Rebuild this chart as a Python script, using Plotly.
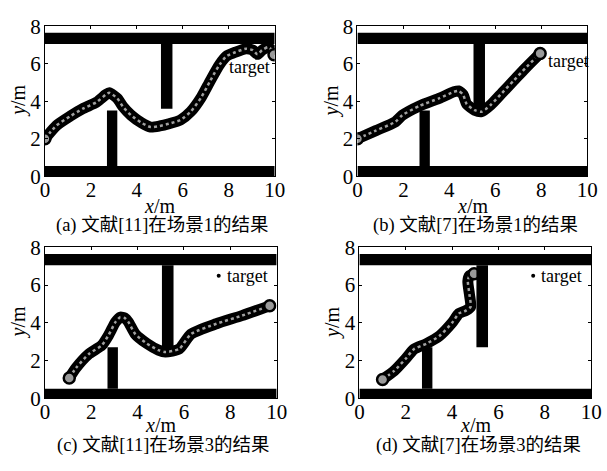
import plotly.graph_objects as go

# ---- data ----
a_x = [0.0, 0.5, 1.1, 1.65, 2.25, 2.65, 2.8, 3.15, 3.4, 3.75, 4.2, 4.6, 5.0, 5.4, 5.9, 6.35, 6.8, 7.2, 7.6, 7.9, 8.3, 8.75, 9.05, 9.25, 9.45, 9.7, 9.9, 9.97]
a_y = [2.0, 2.7, 3.2, 3.6, 3.95, 4.35, 4.45, 4.15, 3.7, 3.25, 2.85, 2.62, 2.68, 2.8, 3.0, 3.45, 4.2, 5.1, 5.95, 6.4, 6.62, 6.8, 6.72, 6.5, 6.72, 6.88, 6.72, 6.48]

b_x = [0.0, 0.8, 1.65, 1.95, 2.7, 3.55, 4.2, 4.4, 4.6, 4.75, 5.1, 5.4, 5.8, 6.3, 6.8, 7.3, 7.95]
b_y = [2.0, 2.43, 2.9, 3.25, 3.75, 4.15, 4.5, 4.55, 4.35, 3.85, 3.52, 3.44, 3.8, 4.45, 5.1, 5.75, 6.55]

c_x = [1.05, 1.35, 1.9, 2.45, 2.75, 3.05, 3.25, 3.45, 3.6, 3.9, 4.4, 4.9, 5.2, 5.8, 6.3, 7.4, 8.5, 9.7]
c_y = [1.07, 1.62, 2.35, 2.8, 3.35, 4.05, 4.3, 4.25, 4.05, 3.4, 2.9, 2.55, 2.45, 2.62, 3.4, 3.95, 4.38, 4.9]

d_x = [1.0, 1.5, 2.0, 2.35, 2.9, 3.45, 4.0, 4.3, 4.6, 4.8, 4.75, 4.68, 4.75, 4.95]
d_y = [1.0, 1.45, 2.1, 2.6, 2.9, 3.3, 4.0, 4.5, 4.65, 4.85, 5.5, 6.2, 6.5, 6.6]

# obstacles: [x0, x1, y0, y1]
scene1_walls = [[0, 10, 7.05, 7.65], [0, 10, 0.0, 0.55], [2.7, 3.15, 0.55, 3.5], [5.05, 5.55, 3.6, 7.05]]
scene3_walls = [[0, 10, 7.05, 7.65], [0, 10, 0.0, 0.5], [2.7, 3.15, 0.5, 2.7], [5.05, 5.55, 2.7, 7.05]]

captions = ["(a) 文献[11]在场景1的结果", "(b) 文献[7]在场景1的结果",
            "(c) 文献[11]在场景3的结果", "(d) 文献[7]在场景3的结果"]
x_ticks = [0, 2, 4, 6, 8, 10]
y_ticks = [0, 2, 4, 6, 8]
target_scene3 = (7.5, 6.5)

W, H = 607, 471
panels = [
    dict(px=(41, 277), py=(15, 173), xs=a_x, ys=a_y, walls=scene1_walls, cap=captions[0], tx=31, cy=225),
    dict(px=(362, 598), py=(15, 173), xs=b_x, ys=b_y, walls=scene1_walls, cap=captions[1], tx=31, cy=225),
    dict(px=(41, 279), py=(248, 407), xs=c_x, ys=c_y, walls=scene3_walls, cap=captions[2], tx=28, cy=457),
    dict(px=(364, 602), py=(248, 407), xs=d_x, ys=d_y, walls=scene3_walls, cap=captions[3], tx=28, cy=457),
]

SERIF = "Liberation Serif"
CJK = "Liberation Serif, Noto Sans CJK SC"

fig = go.Figure()
shapes = []
annotations = []
layout = {}

for i, p in enumerate(panels):
    n = i + 1
    xa = "xaxis" if n == 1 else f"xaxis{n}"
    ya = "yaxis" if n == 1 else f"yaxis{n}"
    xr = "x" if n == 1 else f"x{n}"
    yr = "y" if n == 1 else f"y{n}"
    dx = [p["px"][0] / W, p["px"][1] / W]
    dy = [1 - p["py"][1] / H, 1 - p["py"][0] / H]
    common = dict(showgrid=False, zeroline=False, showline=True, linecolor="black", linewidth=1,
                  mirror="ticks", ticks="inside", ticklen=3, tickcolor="black",
                  tickfont=dict(family=SERIF, size=21, color="black"))
    layout[xa] = dict(domain=dx, range=[0, 10], tickvals=x_ticks, anchor=yr, ticklabelstandoff=-5, **common)
    layout[ya] = dict(domain=dy, range=[0, 8], tickvals=y_ticks, anchor=xr, ticklabelstandoff=-1, **common)

    for (x0, x1, y0, y1) in p["walls"]:
        shapes.append(dict(type="rect", xref=xr, yref=yr, x0=x0, x1=x1, y0=y0, y1=y1,
                           fillcolor="black", line=dict(width=0), layer="above"))

    # trajectory: thick dark rope with light dotted core
    fig.add_trace(go.Scatter(x=p["xs"], y=p["ys"], mode="lines", xaxis=xr, yaxis=yr,
                             line=dict(color="black", width=11, shape="spline", smoothing=0.6),
                             showlegend=False, hoverinfo="skip"))
    fig.add_trace(go.Scatter(x=p["xs"], y=p["ys"], mode="lines", xaxis=xr, yaxis=yr,
                             line=dict(color="#a0a0a0", width=2.5, dash="dot", shape="spline", smoothing=0.6),
                             showlegend=False, hoverinfo="skip"))
    fig.add_trace(go.Scatter(x=[p["xs"][0], p["xs"][-1]], y=[p["ys"][0], p["ys"][-1]], mode="markers",
                             xaxis=xr, yaxis=yr,
                             marker=dict(symbol="circle", size=11, color="#9a9a9a",
                                         line=dict(color="black", width=2.5)),
                             showlegend=False, hoverinfo="skip"))

    # axis titles & caption
    cx = (p["px"][0] + p["px"][1]) / 2
    annotations.append(dict(x=cx / W, y=1 - (p["py"][1] + p["tx"]) / H, xref="paper", yref="paper",
                            xanchor="center", yanchor="middle",
                            text="<i>x</i>/m", showarrow=False, font=dict(family=SERIF, size=20, color="black")))
    annotations.append(dict(x=(p["px"][0] - 27) / W, y=1 - ((p["py"][0] + p["py"][1]) / 2) / H,
                            xref="paper", yref="paper", text="<i>y</i>/m", textangle=-90,
                            xanchor="center", yanchor="middle",
                            showarrow=False, font=dict(family=SERIF, size=20, color="black")))
    annotations.append(dict(x=(cx + 3) / W, y=1 - p["cy"] / H, xref="paper", yref="paper",
                            xanchor="center", yanchor="middle",
                            text=p["cap"], showarrow=False, font=dict(family=CJK, size=18.5, color="black")))

# target labels
annotations.append(dict(x=8.9, y=5.8, xref="x", yref="y", text="target", showarrow=False,
                        font=dict(family=SERIF, size=18, color="black")))
annotations.append(dict(x=8.2, y=6.15, xref="x2", yref="y2", text="target", showarrow=False, xanchor="left",
                        font=dict(family=SERIF, size=18, color="black")))
for n in (3, 4):
    fig.add_trace(go.Scatter(x=[target_scene3[0]], y=[target_scene3[1]], mode="markers",
                             xaxis=f"x{n}", yaxis=f"y{n}", marker=dict(color="black", size=4),
                             showlegend=False, hoverinfo="skip"))
    annotations.append(dict(x=target_scene3[0], y=target_scene3[1], xref=f"x{n}", yref=f"y{n}",
                            text="target", showarrow=False, xanchor="left", xshift=6,
                            font=dict(family=SERIF, size=18, color="black")))

fig.update_layout(width=W, height=H, margin=dict(l=0, r=0, t=0, b=0),
                  paper_bgcolor="white", plot_bgcolor="white",
                  shapes=shapes, annotations=annotations, **layout)
fig.write_html("out.html", post_script="document.body.style.margin='0';")
